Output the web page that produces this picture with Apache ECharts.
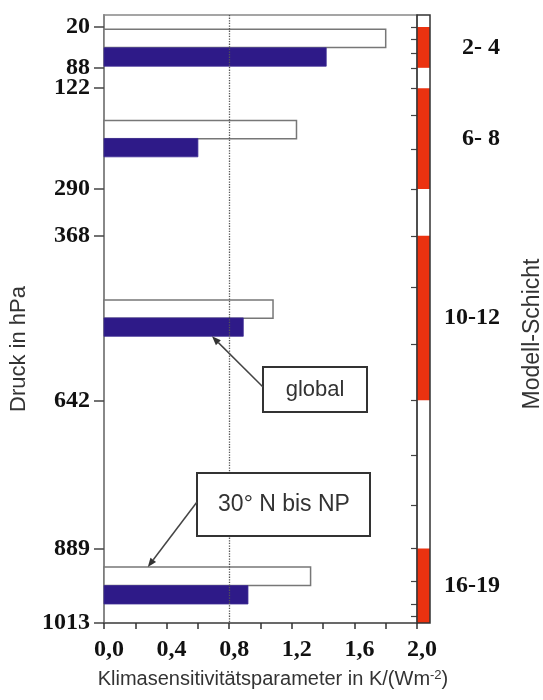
<!DOCTYPE html>
<html><head><meta charset="utf-8">
<script src="https://cdn.jsdelivr.net/npm/echarts@6/dist/echarts.min.js"></script>
<style>html,body{margin:0;padding:0;background:#fff}#c{width:543px;height:700px}</style>
</head><body><div id="c"></div>
<script>
// ---- data ----
const pressureTicks = [20, 88, 122, 290, 368, 642, 889, 1013];            // hPa, left axis labels
const layerBounds = [20, 41, 63, 88, 122, 167, 223, 290, 368, 454, 548, 642, 734, 817, 889, 944, 981, 1002]; // model layer boundaries (hPa)
const layerGroupNames = ['2- 4', '6- 8', '10-12', '16-19'];
const layerGroupTop = [20, 122, 368, 889];
const layerGroupBottom = [88, 290, 642, 1013];
const nhPressure = [39, 191, 490, 935];        // 30° N bis NP bars (hPa)
const nhValues = [1.80, 1.23, 1.08, 1.32];
const globalPressure = [70, 221, 520, 966];    // global bars (hPa)
const globalValues = [1.42, 0.60, 0.89, 0.92];
const xLabelValues = [0, 0.4, 0.8, 1.2, 1.6, 2.0];
const referenceValue = 0.8;

const BAR_H = 18.4;
const SERIF = '"Liberation Serif", "Times New Roman", serif';
const SANS = '"Liberation Sans", Arial, sans-serif';

function barRenderer(fill, stroke, lw) {
  return function (params, api) {
    const p = api.value(1);
    const a = api.coord([0, p]);
    const b = api.coord([api.value(0), p]);
    return {
      type: 'rect',
      shape: { x: a[0], y: a[1] - BAR_H / 2, width: b[0] - a[0], height: BAR_H },
      style: { fill: fill, stroke: stroke, lineWidth: lw }
    };
  };
}

const chart = echarts.init(document.getElementById('c'), null, { renderer: 'canvas' });

chart.setOption({
  animation: false,
  backgroundColor: '#fff',
  grid: [
    { left: 104, top: 15, width: 313, height: 608, show: true, borderColor: '#888', borderWidth: 1.5, outerBoundsMode: 'none' },
    { left: 417, top: 15, width: 13, height: 608, show: false, outerBoundsMode: 'none' }
  ],
  xAxis: [
    {
      gridIndex: 0, type: 'value', min: 0, max: 2, interval: 0.2, position: 'bottom',
      axisLine: { show: true, onZero: false, lineStyle: { color: '#555', width: 1.5 } },
      axisTick: { show: true, length: 6, lineStyle: { color: '#333', width: 1.5 } },
      axisLabel: {
        customValues: xLabelValues,
        formatter: v => v.toFixed(1).replace('.', ','),
        fontFamily: SERIF, fontWeight: 'bold', fontSize: 24, color: '#111',
        margin: 15, padding: [0, 0, 0, 10]
      },
      splitLine: { show: false }
    },
    { gridIndex: 1, type: 'value', min: 0, max: 1, show: false }
  ],
  yAxis: [
    {
      gridIndex: 0, type: 'value', inverse: true, min: 0, max: 1013, position: 'left',
      axisLine: { show: true, onZero: false, lineStyle: { color: '#888', width: 2 } },
      axisTick: { show: true, customValues: pressureTicks, length: 10, lineStyle: { color: '#444', width: 1.5 } },
      axisLabel: {
        customValues: pressureTicks,
        formatter: v => String(v),
        fontFamily: SERIF, fontWeight: 'bold', fontSize: 24, color: '#111',
        margin: 14, verticalAlign: 'middle', padding: [0, 0, 14, 0]
      },
      splitLine: { show: false }
    },
    {
      gridIndex: 1, type: 'value', inverse: true, min: 0, max: 1013, position: 'left',
      axisLine: { show: false, onZero: false },
      axisTick: { show: true, customValues: layerBounds, length: 6, lineStyle: { color: '#444', width: 1.2 } },
      axisLabel: { show: false },
      splitLine: { show: false }
    }
  ],
  series: [
    {
      name: '30° N bis NP', type: 'custom', xAxisIndex: 0, yAxisIndex: 0,
      data: nhValues.map((v, i) => [v, nhPressure[i]]),
      encode: { x: 0, y: 1 },
      renderItem: barRenderer('#ffffff', '#777', 1.5),
      markLine: {
        silent: true, symbol: 'none', label: { show: false },
        lineStyle: { type: 'dotted', color: '#555', width: 1.3 },
        data: [{ xAxis: referenceValue }]
      }
    },
    {
      name: 'global', type: 'custom', xAxisIndex: 0, yAxisIndex: 0,
      data: globalValues.map((v, i) => [v, globalPressure[i]]),
      encode: { x: 0, y: 1 },
      renderItem: barRenderer('#2e1a88', '#3d2c94', 0.8)
    },
    {
      name: 'layers', type: 'custom', xAxisIndex: 1, yAxisIndex: 1, clip: false,
      data: layerGroupTop.map((t, i) => [t, layerGroupBottom[i]]),
      renderItem: function (params, api) {
        const a = api.coord([0, api.value(0)]);
        const b = api.coord([1, api.value(1)]);
        return {
          type: 'group',
          children: [
            { type: 'rect', shape: { x: a[0], y: a[1], width: b[0] - a[0], height: b[1] - a[1] }, style: { fill: '#eb3210' } },
            { type: 'text', style: {
                text: layerGroupNames[params.dataIndex], x: b[0] + 70, y: (a[1] + b[1]) / 2,
                align: 'right', verticalAlign: 'middle', font: 'bold 24px ' + SERIF, fill: '#111' } }
          ]
        };
      }
    },
    {
      name: 'frame', type: 'custom', xAxisIndex: 1, yAxisIndex: 1, clip: false, z: 5,
      data: [[0, 1013]],
      renderItem: function (params, api) {
        const a = api.coord([0, 0]);
        const b = api.coord([1, 1013]);
        return { type: 'rect', shape: { x: a[0], y: a[1], width: b[0] - a[0], height: b[1] - a[1] },
                 style: { fill: 'none', stroke: '#333', lineWidth: 1.5 } };
      }
    }
  ]
});

function arrow(x0, y0, x1, y1) {
  const ang = Math.atan2(y1 - y0, x1 - x0);
  const L = 9, W = 3.5;
  const bx = x1 - L * Math.cos(ang), by = y1 - L * Math.sin(ang);
  const nx = -Math.sin(ang), ny = Math.cos(ang);
  return [
    { type: 'line', shape: { x1: x0, y1: y0, x2: bx, y2: by }, style: { stroke: '#444', lineWidth: 1.5 }, z: 10 },
    { type: 'polygon', shape: { points: [[x1, y1], [bx + nx * W, by + ny * W], [bx - nx * W, by - ny * W]] }, style: { fill: '#333' }, z: 10 }
  ];
}

const gTip = chart.convertToPixel({ xAxisIndex: 0, yAxisIndex: 0 }, [0.69, globalPressure[2]]);
gTip[1] += BAR_H / 2;
const nTip = chart.convertToPixel({ xAxisIndex: 0, yAxisIndex: 0 }, [0.28, nhPressure[3]]);
nTip[1] -= BAR_H / 2;

const graphics = [
  { type: 'rect', shape: { x: 263, y: 367, width: 104, height: 45 }, style: { fill: '#fff', stroke: '#333', lineWidth: 2 }, z: 10 },
  { type: 'text', x: 315, y: 390, style: { text: 'global', font: '22px ' + SANS, fill: '#333', align: 'center', verticalAlign: 'middle' }, z: 11 },
  { type: 'rect', shape: { x: 197, y: 473, width: 173, height: 63 }, style: { fill: '#fff', stroke: '#333', lineWidth: 2 }, z: 10 },
  { type: 'text', x: 284, y: 505, style: { text: '30° N bis NP', font: '23px ' + SANS, fill: '#333', align: 'center', verticalAlign: 'middle' }, z: 11 },
  { type: 'text', x: 19, y: 349, rotation: Math.PI / 2, style: { text: 'Druck in hPa', font: '22px ' + SANS, fill: '#333', align: 'center', verticalAlign: 'middle' } },
  { type: 'text', x: 533, y: 334, rotation: Math.PI / 2, style: { text: 'Modell-Schicht', font: '23px ' + SANS, fill: '#333', align: 'center', verticalAlign: 'middle' } },
  { type: 'text', x: 273, y: 679, style: {
      text: 'Klimasensitivitätsparameter in K/(Wm{s|-2})',
      font: '20px ' + SANS, fill: '#333', align: 'center', verticalAlign: 'middle',
      rich: { s: { fontSize: 13, fontFamily: SANS, verticalAlign: 'top', fill: '#333' } } } }
].concat(arrow(263, 387, gTip[0], gTip[1]), arrow(197, 502, nTip[0], nTip[1]));

chart.setOption({ graphic: graphics });
</script>
</body></html>
